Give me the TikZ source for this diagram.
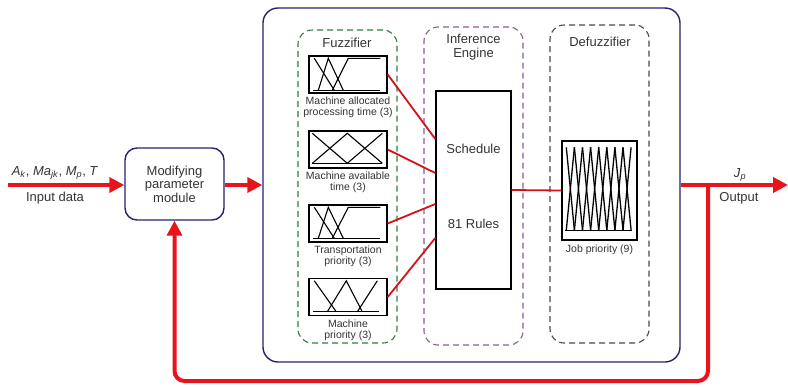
\documentclass[tikz,border=0pt]{standalone}
\usepackage{fontspec}
\setmainfont{Liberation Sans}
\usetikzlibrary{arrows.meta,calc}
\definecolor{rd}{HTML}{E8141C}
\definecolor{navy}{HTML}{23236E}
\definecolor{grn}{HTML}{2F7F35}
\definecolor{pur}{HTML}{8E5E96}
\definecolor{gry}{HTML}{4A4A4A}
\definecolor{txt}{HTML}{333333}
\tikzset{
  outerbox/.style={draw=navy,line width=1.4pt,rounded corners=15pt,minimum width=417pt,minimum height=354pt,inner sep=0},
  modbox/.style={draw=navy,line width=1.4pt,rounded corners=12pt,minimum width=99pt,minimum height=72pt,align=center,font=\fontsize{13}{13.5}\selectfont,text=txt,inner sep=0},
  group/.style={dashed,dash pattern=on 6pt off 4pt,line width=1.1pt,rounded corners=14pt,minimum width=99pt,inner sep=0},
  mfbox/.style={draw=black,line width=1.4pt,minimum width=78pt,minimum height=37pt,inner sep=0},
  mflabel/.style={anchor=north,align=center,font=\fontsize{10.5}{11.3}\selectfont,text=txt,inner sep=0},
  title/.style={font=\fontsize{13}{14}\selectfont,text=txt,align=center,inner sep=0},
  mfline/.style={line width=1.1pt,black},
  bigarrow/.style={draw=rd,line width=4pt,-{Triangle[length=15pt,width=15pt]}},
  thinred/.style={draw=rd!92!black,line width=1.8pt},
}
\begin{document}
\begin{tikzpicture}[x=1pt,y=-1pt]
\useasboundingbox (0,0) rectangle (788,386);
% main frames
\node[outerbox] (outer) at (471.5,185) {};
\node[modbox] (mod) at (174.5,184) {Modifying\\parameter\\module};
\node[group,draw=grn,minimum height=313pt] (fuzz) at (347.5,186.5) {};
\node[group,draw=pur,minimum height=318pt] (inf) at (473.5,186) {};
\node[group,draw=gry,minimum height=318pt] (defz) at (599.5,184) {};
% titles
\node[title] (tfuzz) at (347,43) {Fuzzifier};
\node[title] (tinf) at (473.5,47.5) {Inference\\Engine};
\node[title] (tdef) at (600,42) {Defuzzifier};
% schedule box
\node[draw=black,line width=1.4pt,minimum width=75pt,minimum height=198pt,inner sep=0] (sched) at (473.5,190) {};
\node[title] (tsch) at (473.5,149) {Schedule};
\node[title] (trul) at (473.5,224) {81 Rules};
% membership boxes
\node[mfbox] (mf1) at (348,74.5) {};
\node[mfbox] (mf2) at (348,149.5) {};
\node[mfbox] (mf3) at (348,223.5) {};
\node[mfbox] (mf4) at (348,297) {};
\node[mflabel] (l1) at ([yshift=-3pt]mf1.south) {Machine allocated\\processing time (3)};
\node[mflabel] (l2) at ([yshift=-3pt]mf2.south) {Machine available\\time (3)};
\node[mflabel] (l3) at ([yshift=-3pt]mf3.south) {Transportation\\priority (3)};
\node[mflabel] (l4) at ([yshift=-3pt]mf4.south) {Machine\\priority (3)};
% MF shapes
\begin{scope}[shift={(mf1.north west)}]
  \draw[mfline] (5,35) -- (72,35);
  \draw[mfline] (6,3) -- (26,35);
  \draw[mfline] (10,35) -- (20,3) -- (35,35);
  \draw[mfline] (24,35) -- (40,3) -- (72,3);
\end{scope}
\begin{scope}[shift={(mf2.north west)}]
  \draw[mfline] (4,33) -- (74,33);
  \draw[mfline] (4,3) -- (39,33) -- (74,3);
  \draw[mfline] (4,33) -- (39,3) -- (74,33);
\end{scope}
\begin{scope}[shift={(mf3.north west)}]
  \draw[mfline] (5,34) -- (72,34);
  \draw[mfline] (6,3) -- (26,34);
  \draw[mfline] (10,34) -- (20,3) -- (35,34);
  \draw[mfline] (24,34) -- (40,3) -- (72,3);
\end{scope}
\begin{scope}[shift={(mf4.north west)}]
  \draw[mfline] (5,34) -- (71,34);
  \draw[mfline] (6,3) -- (28,34);
  \draw[mfline] (19,34) -- (38,3) -- (54,34);
  \draw[mfline] (49,34) -- (69,3);
\end{scope}
% job priority box
\node[draw=black,line width=1.4pt,minimum width=75pt,minimum height=99pt,inner sep=0] (job) at (599.5,190.5) {};
\node[mflabel,font=\fontsize{10.5}{11}\selectfont] (ljob) at ([yshift=-4pt]job.south) {Job priority (9)};
\begin{scope}[shift={(job.north west)}]
  \draw[mfline] (4,90) -- (71,90);
  \foreach \i in {0,...,8}{
    \pgfmathsetmacro{\xa}{5+8.1*\i}
    \pgfmathsetmacro{\xl}{5+8.1*(\i-1)}
    \pgfmathsetmacro{\xr}{5+8.1*(\i+1)}
    \ifnum\i>0 \draw[mfline,line width=1.3pt] (\xl,90) -- (\xa,7); \fi
    \ifnum\i<8 \draw[mfline,line width=1.3pt] (\xa,7) -- (\xr,90); \fi
  }
\end{scope}
% connectors
\draw[thinred] (mf1.east) -- ([yshift=51pt]sched.west);
\draw[thinred] (mf2.east) -- ([yshift=17pt]sched.west);
\draw[thinred] (mf3.east) -- ([yshift=-14pt]sched.west);
\draw[thinred] (mf4.east) -- ([yshift=-48pt]sched.west);
\draw[thinred] (sched.east) -- (job.west);
% inputs / outputs
\coordinate (inst) at (8,185);
\coordinate (outend) at (788,185);
\coordinate (jn) at (708,185);
\coordinate (loopb) at (708,381);
\draw[bigarrow] (inst) -- (mod.west |- inst);
\draw[bigarrow] (mod.east |- inst) -- (outer.west |- inst);
\draw[bigarrow] (outer.east |- inst) -- (outend);
\draw[draw=rd,line width=4pt,rounded corners=10pt,-{Triangle[length=15pt,width=15pt]}] (jn) -- (loopb) -- (loopb -| mod.south) -- (mod.south);
% labels
\node[title] (inlab) at (55,173) {\textit{A}\textsubscript{\textit{k}}, \textit{Ma}\textsubscript{\textit{jk}}, \textit{M}\textsubscript{\textit{p}}, \textit{T}};
\node[title] (indata) at (55,198) {Input data};
\node[title] (jp) at (740,175) {\textit{J}\textsubscript{\textit{p}}};
\node[title] (outl) at (739,198) {Output};
\end{tikzpicture}
\end{document}
